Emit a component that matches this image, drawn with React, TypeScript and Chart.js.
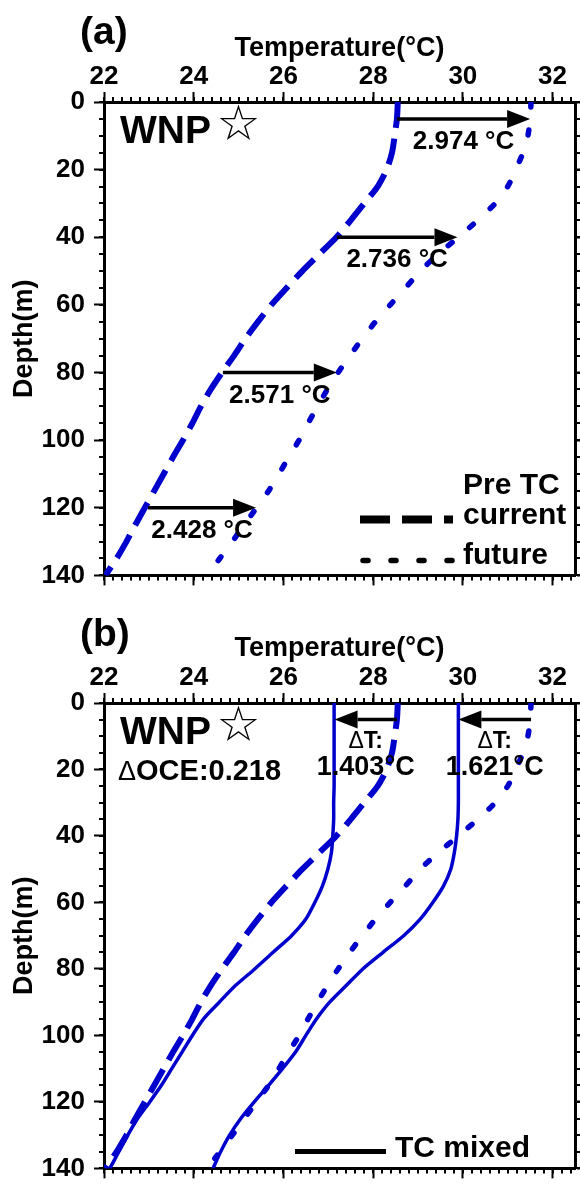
import React, { useEffect, useRef } from 'react';
import { Chart, registerables } from 'chart.js';
Chart.register(...registerables);

const FONT = "'Liberation Sans', Arial, Helvetica, sans-serif";
const BLUE = '#0000cc';

// ---- data (depth in m, temperature in °C) ----
const depthLevels = [0, 5, 10, 15, 20, 25, 30, 35, 40, 45, 50, 55, 60, 65, 70, 75, 80, 85, 90, 95, 100, 105, 110, 115, 120, 125, 130, 135, 140];
const preCurrentTemp = [28.55, 28.53, 28.48, 28.42, 28.3, 28.1, 27.8, 27.5, 27.18, 26.8, 26.42, 26.07, 25.73, 25.43, 25.15, 24.9, 24.63, 24.38, 24.16, 23.97, 23.76, 23.54, 23.33, 23.12, 22.91, 22.7, 22.5, 22.28, 22.03];
const futureDepthLevels = [0, 5, 10, 15, 20, 25, 30, 35, 40, 45, 50, 55, 60, 65, 70, 75, 80, 85, 90, 95, 100, 105, 110, 115, 120, 125, 130, 135, 137];
const preFutureTemp = [31.52, 31.5, 31.45, 31.34, 31.18, 31.0, 30.72, 30.33, 29.9, 29.45, 29.05, 28.72, 28.38, 28.05, 27.76, 27.48, 27.22, 26.98, 26.76, 26.55, 26.35, 26.12, 25.9, 25.67, 25.4, 25.13, 24.86, 24.58, 24.47];
const mixedCurrentTemp = [27.13, 27.13, 27.13, 27.13, 27.13, 27.13, 27.12, 27.12, 27.1, 27.07, 26.99, 26.87, 26.7, 26.5, 26.18, 25.77, 25.36, 24.93, 24.57, 24.22, 23.97, 23.74, 23.51, 23.28, 23.02, 22.75, 22.53, 22.33, 22.13];
const mixedFutureTemp = [29.9, 29.9, 29.9, 29.9, 29.9, 29.9, 29.9, 29.89, 29.86, 29.81, 29.73, 29.57, 29.33, 29.05, 28.68, 28.22, 27.77, 27.4, 27.03, 26.74, 26.5, 26.27, 25.98, 25.67, 25.35, 25.05, 24.8, 24.6, 24.43];

const tempMin = 22;
const tempMax = 32.5;
const tempStep = 2;
const tempMinorStep = 0.2;
const depthMin = 0;
const depthMax = 140;
const depthStep = 20;
const depthMinorStep = 5;

const arrowDepthsA = [5, 40, 80, 120];
const arrowFromA = [28.53, 27.19, 24.65, 22.98];
const arrowToA = [31.5, 29.88, 27.19, 25.39];
const arrowLabelsA = ['2.974 °C', '2.736 °C', '2.571 °C', '2.428 °C'];

const arrowDepthsB = [5, 5];
const arrowFromB = [28.53, 31.52];
const arrowToB = [27.14, 29.9];
const arrowLabelsB = ['1.403°C', '1.621°C'];

const pts = (temps: number[], depths: number[]) => depths.map((d, i) => ({ x: temps[i], y: d }));

function drawArrow(ctx: CanvasRenderingContext2D, x1: number, y: number, x2: number) {
  const dir = Math.sign(x2 - x1);
  const head = 23, half = 9;
  ctx.beginPath();
  ctx.moveTo(x1, y);
  ctx.lineTo(x2 - dir * head, y);
  ctx.lineWidth = 3.5;
  ctx.strokeStyle = '#000';
  ctx.stroke();
  ctx.beginPath();
  ctx.moveTo(x2, y);
  ctx.lineTo(x2 - dir * head, y - half);
  ctx.lineTo(x2 - dir * head, y + half);
  ctx.closePath();
  ctx.fillStyle = '#000';
  ctx.fill();
}

const minorTicks = {
  id: 'minorTicks',
  afterDraw(chart: any) {
    const { ctx, chartArea: a, scales } = chart;
    const xs = scales.x, ys = scales.y;
    ctx.save();
    ctx.strokeStyle = '#000';
    ctx.lineWidth = 2;
    ctx.beginPath();
    for (let v = tempMin; v <= tempMax + 1e-6; v += tempMinorStep) {
      const px = Math.round(xs.getPixelForValue(v));
      ctx.moveTo(px, a.top);
      ctx.lineTo(px, a.top - 5);
      ctx.moveTo(px, a.bottom);
      ctx.lineTo(px, a.bottom + 5);
    }
    for (let d = depthMin; d <= depthMax; d += depthMinorStep) {
      const py = Math.round(ys.getPixelForValue(d));
      ctx.moveTo(a.left, py);
      ctx.lineTo(a.left - 5, py);
      ctx.moveTo(a.right, py);
      ctx.lineTo(a.right + 5, py);
    }
    ctx.stroke();
    ctx.restore();
  },
};

function drawRegionLabel(ctx: CanvasRenderingContext2D, a: any) {
  ctx.fillStyle = '#000';
  ctx.textAlign = 'left';
  ctx.textBaseline = 'alphabetic';
  ctx.font = `bold 39px ${FONT}`;
  ctx.fillText('WNP', a.left + 16, a.top + 41);
  ctx.font = `49px 'DejaVu Sans'`;
  ctx.textAlign = 'center';
  ctx.textBaseline = 'middle';
  ctx.fillText('☆', a.left + 134.5, a.top + 25);
}

function makeAnnotA(letter: string) {
  return {
    id: 'annotA',
    afterDraw(chart: any) {
      const { ctx, chartArea: a, scales } = chart;
      const xs = scales.x, ys = scales.y;
      ctx.save();
      ctx.fillStyle = '#000';
      ctx.font = `bold 39px ${FONT}`;
      ctx.textAlign = 'left';
      ctx.textBaseline = 'alphabetic';
      ctx.fillText(letter, 80, 44);
      drawRegionLabel(ctx, a);
      arrowDepthsA.forEach((d, i) => {
        const y = ys.getPixelForValue(d);
        const x1 = xs.getPixelForValue(arrowFromA[i]);
        const x2 = xs.getPixelForValue(arrowToA[i]);
        drawArrow(ctx, x1, y, x2);
        ctx.font = `bold 26px ${FONT}`;
        ctx.textAlign = 'center';
        ctx.textBaseline = 'alphabetic';
        ctx.fillStyle = '#000';
        ctx.fillText(arrowLabelsA[i], (x1 + x2) / 2, y + 30);
      });
      // legend
      ctx.font = `bold 30px ${FONT}`;
      ctx.textAlign = 'left';
      ctx.fillText('Pre TC', a.right - 112, a.bottom - 81);
      ctx.fillText('current', a.right - 112, a.bottom - 51);
      ctx.fillText('future', a.right - 112, a.bottom - 11);
      ctx.strokeStyle = '#000';
      ctx.lineWidth = 8;
      ctx.lineCap = 'butt';
      ctx.setLineDash([30, 12]);
      ctx.beginPath();
      ctx.moveTo(a.right - 215, a.bottom - 56);
      ctx.lineTo(a.right - 122, a.bottom - 56);
      ctx.stroke();
      ctx.lineWidth = 5.5;
      ctx.lineCap = 'round';
      ctx.setLineDash([5, 23]);
      ctx.beginPath();
      ctx.moveTo(a.right - 212, a.bottom - 15);
      ctx.lineTo(a.right - 122, a.bottom - 15);
      ctx.stroke();
      ctx.restore();
    },
  };
}

function makeAnnotB(letter: string) {
  return {
    id: 'annotB',
    afterDraw(chart: any) {
      const { ctx, chartArea: a, scales } = chart;
      const xs = scales.x, ys = scales.y;
      ctx.save();
      ctx.fillStyle = '#000';
      ctx.font = `bold 39px ${FONT}`;
      ctx.textAlign = 'left';
      ctx.textBaseline = 'alphabetic';
      ctx.fillText(letter, 80, 46);
      drawRegionLabel(ctx, a);
      ctx.textAlign = 'left';
      ctx.textBaseline = 'alphabetic';
      ctx.font = `27px ${FONT}`;
      const dW = ctx.measureText('Δ').width;
      ctx.fillText('Δ', a.left + 14, a.top + 77);
      ctx.font = `bold 29px ${FONT}`;
      ctx.fillText('OCE:0.218', a.left + 14 + dW, a.top + 77);
      arrowDepthsB.forEach((d, i) => {
        const y = ys.getPixelForValue(d);
        const x1 = xs.getPixelForValue(arrowFromB[i]);
        const x2 = xs.getPixelForValue(arrowToB[i]);
        drawArrow(ctx, x1, y, x2);
        const cx = (x1 + x2) / 2;
        ctx.textBaseline = 'alphabetic';
        ctx.fillStyle = '#000';
        ctx.font = `23px ${FONT}`;
        const w1 = ctx.measureText('Δ').width;
        ctx.font = `bold 23px ${FONT}`;
        const w2 = ctx.measureText('T:').width;
        const sx = cx - (w1 + w2) / 2;
        ctx.textAlign = 'left';
        ctx.font = `23px ${FONT}`;
        ctx.fillText('Δ', sx, y + 28);
        ctx.font = `bold 23px ${FONT}`;
        ctx.fillText('T:', sx + w1, y + 28);
        ctx.font = `bold 27px ${FONT}`;
        ctx.textAlign = 'center';
        ctx.fillText(arrowLabelsB[i], cx, y + 55);
      });
      // legend
      ctx.font = `bold 30px ${FONT}`;
      ctx.textAlign = 'left';
      ctx.fillText('TC mixed', a.right - 180, a.bottom - 11);
      ctx.strokeStyle = '#000';
      ctx.lineWidth = 5;
      ctx.beginPath();
      ctx.moveTo(a.right - 280, a.bottom - 17);
      ctx.lineTo(a.right - 189, a.bottom - 17);
      ctx.stroke();
      ctx.restore();
    },
  };
}

function axisOptions(topBox: number, bottomBox: number) {
  const grid = { display: true, drawOnChartArea: false, drawTicks: true, tickLength: 10, tickWidth: 2, tickColor: '#000', color: '#000' };
  const border = { display: true, color: '#000', width: 3 };
  return {
    x: {
      type: 'linear', position: 'top', min: tempMin, max: tempMax,
      ticks: { stepSize: tempStep, includeBounds: false, color: '#000', padding: 0, font: { family: FONT, size: 26, weight: 'bold' } },
      title: { display: true, text: 'Temperature(°C)', color: '#000', padding: { top: 32, bottom: 0 }, font: { family: FONT, size: 27, weight: 'bold' } },
      grid, border,
      afterFit: (s: any) => { s.height = topBox; },
    },
    x2: {
      type: 'linear', position: 'bottom', min: tempMin, max: tempMax,
      ticks: { stepSize: tempStep, includeBounds: false, display: false },
      grid, border,
      afterFit: (s: any) => { s.height = bottomBox; },
    },
    y: {
      type: 'linear', position: 'left', min: depthMin, max: depthMax, reverse: true,
      ticks: { stepSize: depthStep, includeBounds: false, color: '#000', padding: 9, font: { family: FONT, size: 26, weight: 'bold' } },
      title: { display: true, text: 'Depth(m)', color: '#000', padding: { top: 8, bottom: 0 }, font: { family: FONT, size: 27, weight: 'bold' } },
      grid, border,
      afterFit: (s: any) => { s.width = 104; },
    },
    y2: {
      type: 'linear', position: 'right', min: depthMin, max: depthMax, reverse: true,
      ticks: { stepSize: depthStep, includeBounds: false, display: false },
      grid, border,
      afterFit: (s: any) => { s.width = 5; },
    },
  };
}

const dashedStyle = { borderColor: BLUE, borderWidth: 6, borderDash: [26, 11], borderCapStyle: 'butt' };
const dottedStyle = { borderColor: BLUE, borderWidth: 5.5, borderDash: [5, 23], borderCapStyle: 'round' };
const solidStyle = { borderColor: BLUE, borderWidth: 3.5, borderCapStyle: 'butt' };

function baseDataset(label: string, data: any[], style: any) {
  return { label, data, ...style, pointRadius: 0, tension: 0.25, fill: false, showLine: true, xAxisID: 'x', yAxisID: 'y' };
}

export default function App() {
  const ref1 = useRef<HTMLCanvasElement>(null);
  const ref2 = useRef<HTMLCanvasElement>(null);

  useEffect(() => {
    const common = {
      animation: false,
      responsive: false,
      devicePixelRatio: 1,
      layout: { padding: 0 },
      plugins: { legend: { display: false }, tooltip: { enabled: false } },
    };
    const c1 = new Chart(ref1.current!, {
      type: 'line',
      data: {
        datasets: [
          baseDataset('current', pts(preCurrentTemp, depthLevels), dashedStyle),
          baseDataset('future', pts(preFutureTemp, futureDepthLevels), dottedStyle),
        ],
      },
      options: { ...common, scales: axisOptions(102, 20) } as any,
      plugins: [minorTicks, makeAnnotA('(a)')],
    });
    const c2 = new Chart(ref2.current!, {
      type: 'line',
      data: {
        datasets: [
          baseDataset('current', pts(preCurrentTemp, depthLevels), dashedStyle),
          baseDataset('future', pts(preFutureTemp, futureDepthLevels), dottedStyle),
          baseDataset('TC mixed current', pts(mixedCurrentTemp, depthLevels), solidStyle),
          baseDataset('TC mixed future', pts(mixedFutureTemp, depthLevels), solidStyle),
        ],
      },
      options: { ...common, scales: axisOptions(103, 10) } as any,
      plugins: [minorTicks, makeAnnotB('(b)')],
    });
    return () => { c1.destroy(); c2.destroy(); };
  }, []);

  return (
    <div style={{ position: 'absolute', left: 0, top: 0, width: 580, height: 1193, background: '#fff' }}>
      <canvas ref={ref1} width={580} height={600} style={{ position: 'absolute', left: 0, top: 0, width: 580, height: 600 }} />
      <canvas ref={ref2} width={580} height={593} style={{ position: 'absolute', left: 0, top: 600, width: 580, height: 593 }} />
    </div>
  );
}
